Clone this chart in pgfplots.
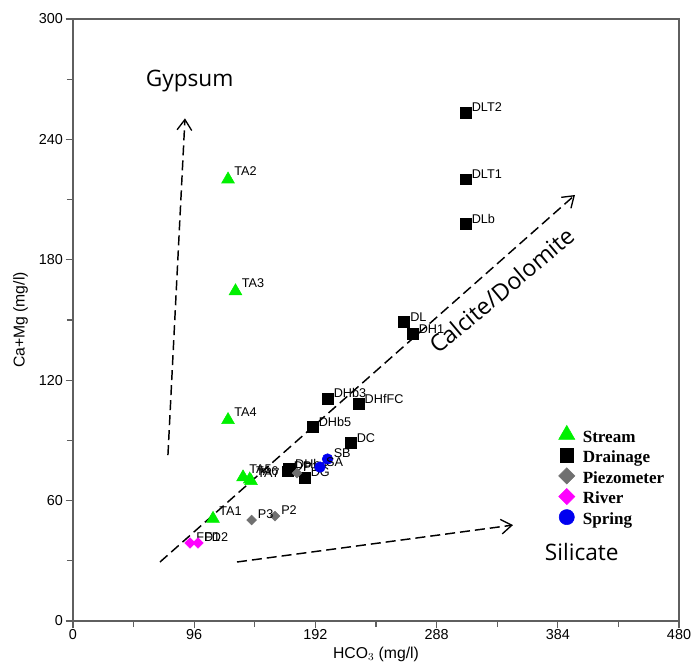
\documentclass[border=0pt]{standalone}
\usepackage{pgfplots}
\pgfplotsset{compat=1.18}
\usepackage{fontspec}
\setmainfont{Liberation Sans}
\newfontfamily\legfont{Liberation Serif}
\newfontfamily\annfont{Open Sans}
\usetikzlibrary{arrows.meta}

\definecolor{streamc}{RGB}{0,240,0}
\definecolor{drainc}{RGB}{0,0,0}
\definecolor{piezoc}{RGB}{112,112,112}
\definecolor{riverc}{RGB}{255,0,255}
\definecolor{springc}{RGB}{0,0,240}
\definecolor{axisc}{RGB}{95,95,95}

\begin{document}
\begin{tikzpicture}
\useasboundingbox (-54.75pt,-37.5pt) rectangle (463.5pt,465.75pt);
\begin{axis}[
  scale only axis,
  width=454.5pt, height=451.5pt,
  xmin=0, xmax=480, ymin=0, ymax=300,
  xtick={0,96,...,480}, ytick={0,60,...,300},
  minor x tick num=1, minor y tick num=1,
  tick pos=left, tick align=outside,
  major tick length=5.5pt, minor tick length=4.5pt,
  axis line style={axisc, line width=0.8pt},
  every tick/.style={axisc, line width=0.8pt},
  tick label style={font=\fontsize{10.8}{12}\selectfont},
  xticklabel style={yshift=2.5pt},
  yticklabel style={xshift=1.5pt},
  /pgf/number format/assume math mode=true,
  xlabel={HCO$_3$ (mg/l)},
  ylabel={Ca+Mg (mg/l)},
  label style={font=\fontsize{11.8}{13}\selectfont},
  xlabel style={yshift=1.5pt},
  ylabel style={yshift=1.5pt},
  clip=false,
  point meta=explicit symbolic,
  nodes near coords,
  every node near coord/.style={anchor=base west, inner sep=0pt,
    font=\fontsize{9.5}{11}\selectfont, color=black, xshift=4.5pt},
  legend style={at={(0.792,0.323)}, anchor=north west, draw=none, fill=none,
    inner sep=0pt, cells={anchor=west},
    nodes={inner sep=1pt, text height=9.5pt, text depth=3pt},
    font=\legfont\bfseries\fontsize{12.8}{15}\selectfont},
  legend image code/.code={%
    \path (0cm,-2pt) (0.73cm,8pt);
    \pgfinterruptboundingbox
    \draw[#1] plot coordinates {(0.35cm,0.08cm)};
    \endpgfinterruptboundingbox},
]

% Stream samples
\addplot[only marks, forget plot, mark=triangle*, mark size=5.5pt,
  color=streamc, every node near coord/.append style={yshift=2.6pt}]
  table[meta=lab] {
x y lab
122.8 220.1 TA2
128.7 164.4 TA3
122.8 100.2 TA4
134.7 71.7 TA5
140.0 70.6 TA6
141.0 69.8 TA7
110.9 51.0 TA1
};

% Drainage samples
\addplot[only marks, forget plot, mark=square*, mark size=4pt,
  color=drainc, every node near coord/.append style={yshift=0.4pt}]
  table[meta=lab] {
x y lab
310.9 253.4 DLT2
310.9 220.2 DLT1
310.9 198.0 DLb
262.2 149.0 DL
268.9 143.0 DH1
201.6 110.9 DHb3
226.1 108.1 DHfFC
189.7 96.7 DHb5
219.8 88.9 DC
171.0 75.7 DHb4
170.0 74.6 DP
183.4 71.5 DG
};

% Piezometers
\addplot[only marks, forget plot, mark=square*, mark size=2.6pt,
  mark options={rotate=45}, color=piezoc,
  every node near coord/.append style={yshift=1.1pt}]
  table[meta=lab] {
x y lab
177.4 73.7 P1
160.0 52.3 P2
141.5 50.3 P3
};

% River
\addplot[only marks, forget plot, mark=square*, mark size=2.8pt,
  mark options={rotate=45}, color=riverc,
  every node near coord/.append style={yshift=0.8pt}]
  table[meta=lab] {
x y lab
92.7 38.9 FD1
99.0 38.9 FD2
};

% Springs
\addplot[only marks, forget plot, mark=*, mark size=4pt,
  color=springc, every node near coord/.append style={yshift=0.8pt}]
  table[meta=lab] {
x y lab
201.6 80.7 SB
195.6 76.7 SA
};

% Legend
\addlegendimage{only marks, mark=triangle*, mark size=7pt, color=streamc}
\addlegendentry{Stream}
\addlegendimage{only marks, mark=square*, mark size=5pt, color=drainc}
\addlegendentry{Drainage}
\addlegendimage{only marks, mark=square*, mark size=4.3pt, mark options={rotate=45}, color=piezoc}
\addlegendentry{Piezometer}
\addlegendimage{only marks, mark=square*, mark size=4.3pt, mark options={rotate=45}, color=riverc}
\addlegendentry{River}
\addlegendimage{only marks, mark=*, mark size=5.7pt, color=springc}
\addlegendentry{Spring}

% Process trends
\draw[line width=1.1pt, dash pattern=on 7.5pt off 3.75pt,
  -{Straight Barb[length=8pt,width=11pt,line width=1pt]}]
  (axis cs:75.2,82.7) -- (axis cs:88.7,250.5);
\draw[line width=1.1pt, dash pattern=on 7.5pt off 3.75pt,
  -{Straight Barb[length=8pt,width=11pt,line width=1pt]}]
  (axis cs:68.9,29.4) -- (axis cs:397.6,212.3);
\draw[line width=1.1pt, dash pattern=on 7.5pt off 3.75pt,
  -{Straight Barb[length=8pt,width=11pt,line width=1pt]}]
  (axis cs:129.9,29.4) -- (axis cs:348.5,47.8);

\node[font=\annfont\fontsize{17}{20}\selectfont] at (axis cs:92.4,269) {Gypsum};
\node[font=\annfont\fontsize{17.5}{20}\selectfont, rotate=40]
  at (axis cs:339.8,164.9) {Calcite/Dolomite};
\node[font=\annfont\fontsize{17}{20}\selectfont] at (axis cs:403,34.4) {Silicate};
\end{axis}
\end{tikzpicture}
\end{document}
